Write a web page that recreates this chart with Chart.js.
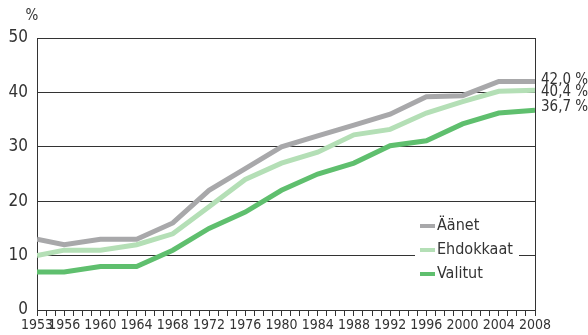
<!DOCTYPE html>
<html>
<head>
<meta charset="utf-8">
<script src="https://cdn.jsdelivr.net/npm/chart.js@4"></script>
<style>
  html, body { margin: 0; padding: 0; background: #fff; }
  #wrap { width: 588px; height: 335px; }
</style>
</head>
<body>
<div id="wrap"><canvas id="myChart" width="588" height="335"></canvas></div>
<script>
// election years and women's share (%)
var years = [1953, 1956, 1960, 1964, 1968, 1972, 1976, 1980, 1984, 1988, 1992, 1996, 2000, 2004, 2008];
var aanet = [13, 12, 13, 13, 16, 22, 26, 30, 32, 34, 36, 39.2, 39.4, 42.0, 42.0];
var ehdokkaat = [10, 11, 11, 12, 14, 19, 24, 27, 29, 32.2, 33.2, 36.2, 38.3, 40.2, 40.4];
var valitut = [7, 7, 8, 8, 11, 15, 18, 22, 25, 27, 30.2, 31.1, 34.2, 36.2, 36.7];
var seriesNames = ['Äänet', 'Ehdokkaat', 'Valitut'];
var endLabels = ['42,0 %', '40,4 %', '36,7 %'];
var yearLabels = [1953, 1956, 1960, 1964, 1968, 1972, 1976, 1980, 1984, 1988, 1992, 1996, 2000, 2004, 2008];

var colors = ['#a8a8aa', '#b4dfb6', '#5fbf6e'];
var textColor = '#333333';
var narrow = "'Liberation Sans Narrow', 'DejaVu Sans Condensed', sans-serif";

function pts(vals) {
    return years.map(function (y, i) { return { x: y, y: vals[i] }; });
}

var frame = {
    id: 'frame',
    afterDraw: function (chart) {
        var c = chart.ctx, a = chart.chartArea;
        c.save();
        // right border
        c.strokeStyle = '#333';
        c.lineWidth = 1;
        c.beginPath();
        c.moveTo(Math.round(a.right) + 0.5, a.top);
        c.lineTo(Math.round(a.right) + 0.5, a.bottom);
        c.stroke();

        // "%" unit
        c.fillStyle = textColor;
        c.font = "15px " + narrow;
        c.textAlign = 'center';
        c.textBaseline = 'middle';
        c.fillText('%', 32, 16);

        // end labels
        var ys = chart.scales.y;
        var offs = [-1, 2, -3];
        c.font = "15px " + narrow;
        c.textAlign = 'left';
        chart.data.datasets.forEach(function (ds, i) {
            var last = ds.data[ds.data.length - 1].y;
            c.fillText(endLabels[i], a.right + 6, ys.getPixelForValue(last) + offs[i]);
        });

        // legend inside plot
        c.fillStyle = '#fff';
        c.fillRect(415, 215, 104, 70);
        var ly = [226, 250, 274];
        c.font = "16px " + narrow;
        chart.data.datasets.forEach(function (ds, i) {
            c.fillStyle = colors[i];
            c.fillRect(420, ly[i] - 2, 15, 4);
            c.fillStyle = textColor;
            c.fillText(seriesNames[i], 437, ly[i]);
        });
        c.restore();
    }
};

var ctx = document.getElementById('myChart');
var myChart = new Chart(ctx, {
    type: 'line',
    data: {
        datasets: [{
            label: seriesNames[0],
            data: pts(aanet),
            borderColor: colors[0],
            borderWidth: 5,
            pointRadius: 0
        }, {
            label: seriesNames[1],
            data: pts(ehdokkaat),
            borderColor: colors[1],
            borderWidth: 5,
            pointRadius: 0
        }, {
            label: seriesNames[2],
            data: pts(valitut),
            borderColor: colors[2],
            borderWidth: 5,
            pointRadius: 0
        }]
    },
    options: {
        responsive: false,
        animation: false,
        layout: { padding: { left: 0, right: 53, top: 38, bottom: 0 } },
        plugins: {
            legend: { display: false },
            tooltip: { enabled: false }
        },
        scales: {
            x: {
                type: 'linear',
                min: 1953,
                max: 2008,
                afterBuildTicks: function (scale) {
                    var t = [];
                    for (var y = 1953; y <= 2008; y++) t.push({ value: y });
                    scale.ticks = t;
                },
                afterFit: function (scale) { scale.height = 25; },
                grid: {
                    drawOnChartArea: false,
                    drawTicks: true,
                    tickLength: 6,
                    color: '#333'
                },
                border: { color: '#333', width: 1 },
                ticks: {
                    autoSkip: false,
                    maxRotation: 0,
                    padding: 1,
                    color: textColor,
                    font: { family: narrow, size: 14 },
                    callback: function (v) {
                        return yearLabels.indexOf(v) >= 0 ? String(v) : '';
                    }
                }
            },
            y: {
                min: 0,
                max: 50,
                afterFit: function (scale) { scale.width = 37; },
                grid: { drawTicks: false, color: '#333', lineWidth: 1 },
                border: { color: '#333', width: 1 },
                ticks: {
                    stepSize: 10,
                    padding: 9,
                    color: textColor,
                    font: { family: narrow, size: 17 }
                }
            }
        }
    },
    plugins: [frame]
});
</script>
</body>
</html>
